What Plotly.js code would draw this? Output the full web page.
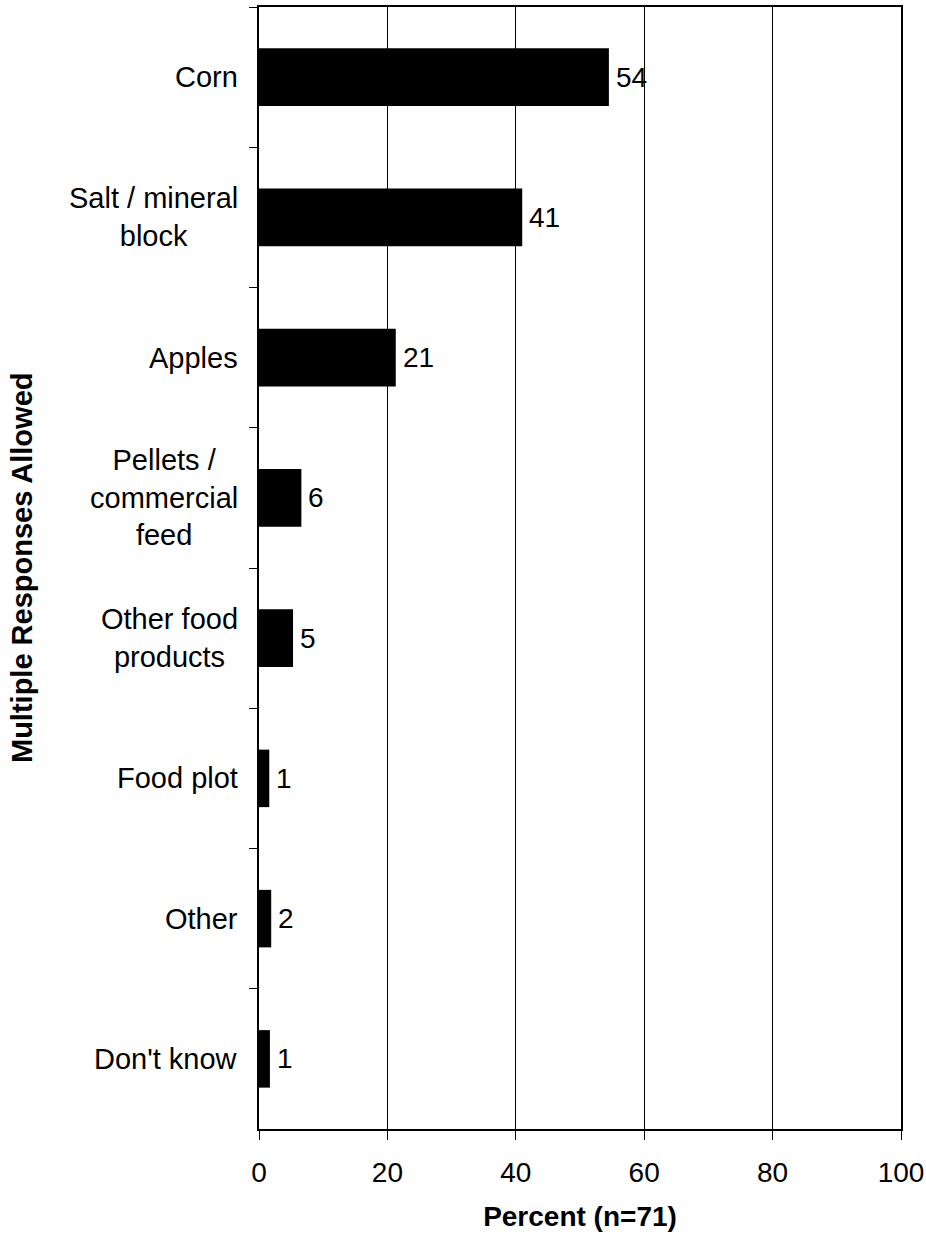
<!DOCTYPE html>
<html>
<head>
<meta charset="utf-8">
<script src="https://cdn.plot.ly/plotly-3.0.1.min.js"></script>
<style>
html, body { margin: 0; padding: 0; background: #fff; }
#chart { width: 926px; height: 1238px; }
</style>
</head>
<body>
<div id="chart"></div>
<script>
const categories = [
  "Corn",
  "Salt / mineral<br>block",
  "Apples",
  "Pellets /<br>commercial<br>feed",
  "Other food<br>products",
  "Food plot",
  "Other",
  "Don't know"
];
const percentValues = [54.5, 41.0, 21.3, 6.6, 5.3, 1.6, 1.9, 1.7];
const valueLabels = ["54", "41", "21", "6", "5", "1", "2", "1"];
const xTickValues = [0, 20, 40, 60, 80, 100];
const xAxisTitle = "Percent (n=71)";
const yAxisTitle = "Multiple Responses Allowed";

const FONT = "Liberation Sans, Arial, sans-serif";

const trace = {
  type: "bar",
  orientation: "h",
  x: percentValues,
  y: categories,
  marker: { color: "#000000", line: { width: 0 } },
  hoverinfo: "skip"
};

const valueAnnotations = percentValues.map((v, i) => ({
  x: v, y: categories[i], xref: "x", yref: "y",
  text: valueLabels[i], showarrow: false,
  xanchor: "left", yanchor: "middle", xshift: 5,
  font: { family: FONT, size: 28, color: "#000" }
}));

const categoryAnnotations = categories.map((c) => ({
  x: 0, y: c, xref: "paper", yref: "y",
  text: c, showarrow: false, align: "center",
  xanchor: "right", yanchor: "middle", xshift: -19,
  font: { family: FONT, size: 29, color: "#000" }
}));

const layout = {
  width: 926, height: 1238,
  margin: { l: 259, r: 25, t: 7, b: 109, pad: 0 },
  paper_bgcolor: "#fff", plot_bgcolor: "#fff",
  showlegend: false,
  bargap: 0.59,
  font: { family: FONT, size: 28, color: "#000" },
  xaxis: {
    range: [0, 100],
    tickvals: xTickValues,
    ticktext: xTickValues.map(String),
    ticks: "outside", ticklen: 9, tickwidth: 1, tickcolor: "#000",
    showgrid: true, gridcolor: "#000", gridwidth: 1,
    zeroline: false,
    showline: true, linecolor: "#000", linewidth: 2, mirror: true,
    tickfont: { family: FONT, size: 28, color: "#000" },
    ticklabelstandoff: 8,
    title: { text: "<b>" + xAxisTitle + "</b>", font: { family: FONT, size: 28, color: "#000" }, standoff: 20 },
    fixedrange: true
  },
  yaxis: {
    type: "category",
    autorange: "reversed",
    showticklabels: false,
    ticks: "outside", ticklen: 8, tickwidth: 1, tickcolor: "#000",
    tickson: "boundaries",
    showgrid: false, zeroline: false,
    showline: true, linecolor: "#000", linewidth: 2, mirror: true,
    fixedrange: true
  },
  annotations: valueAnnotations.concat(categoryAnnotations).concat([{
    x: 0, y: 0.5, xref: "paper", yref: "paper",
    text: "<b>" + yAxisTitle + "</b>", showarrow: false, textangle: -90,
    xanchor: "center", yanchor: "middle", xshift: -237,
    font: { family: FONT, size: 29, color: "#000" }
  }])
};

Plotly.newPlot("chart", [trace], layout, { displayModeBar: false, staticPlot: true });
</script>
</body>
</html>
